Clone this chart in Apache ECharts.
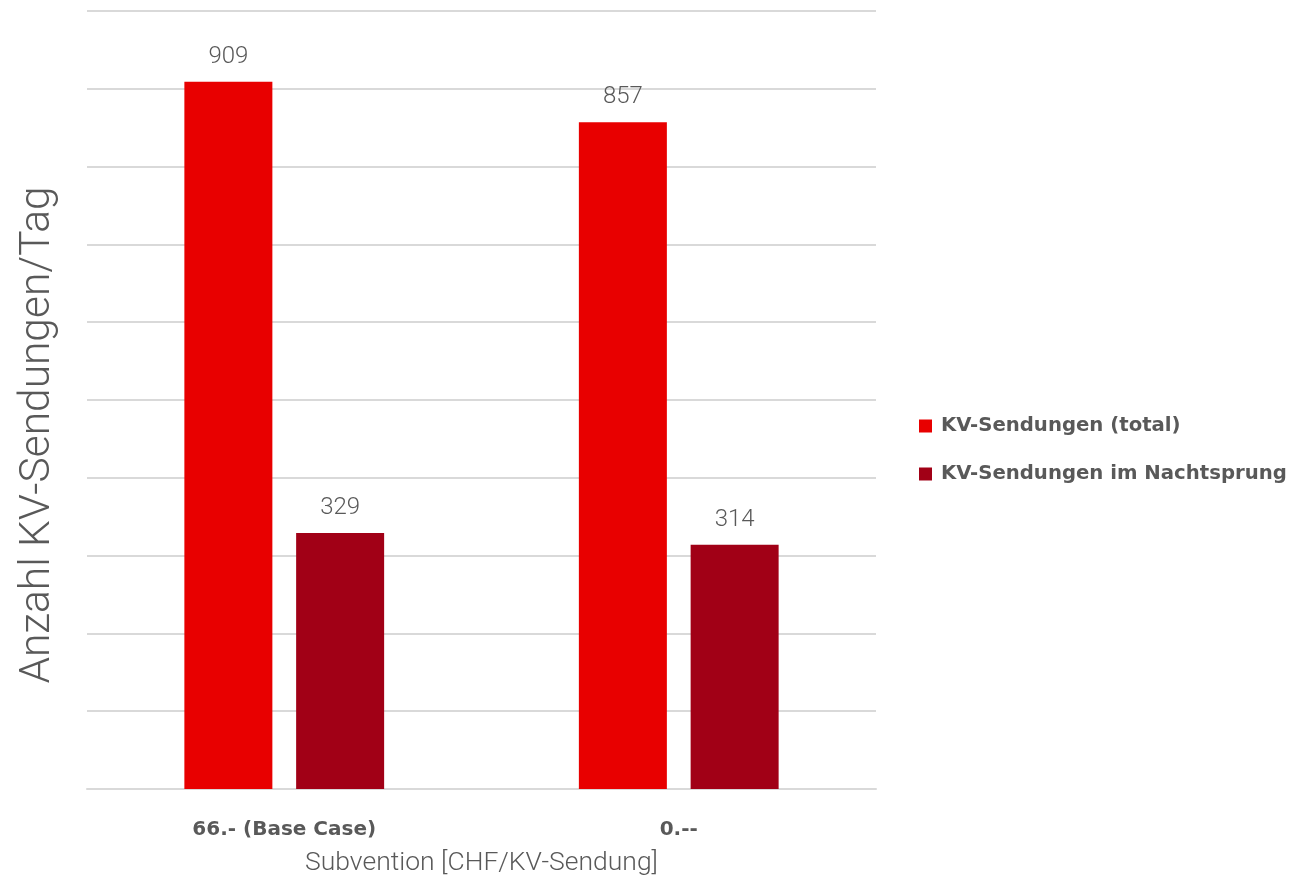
<!DOCTYPE html>
<html>
<head>
<meta charset="utf-8">
<style>
html,body{margin:0;padding:0;background:#fff;}
#chart{width:1306px;height:882px;}
</style>
<script src="https://cdn.jsdelivr.net/npm/echarts@6/dist/echarts.min.js"></script>
</head>
<body>
<div id="chart"></div>
<script>
const categories = ['66.- (Base Case)', '0.--'];
const seriesNames = ['KV-Sendungen (total)', 'KV-Sendungen im Nachtsprung'];
const totalValues = [909, 857];
const nightValues = [329, 314];
const yAxisTitle = 'Anzahl KV-Sendungen/Tag';
const xAxisTitle = 'Subvention [CHF/KV-Sendung]';

const chart = echarts.init(document.getElementById('chart'), null, {renderer: 'canvas'});
const lightFont = 'Roboto';
const boldFont = 'DejaVu Sans';
const labelStyle = {
  show: true, position: 'top', distance: 13,
  color: '#595959', fontFamily: lightFont, fontWeight: 300, fontSize: 24
};
chart.setOption({
  animation: false,
  backgroundColor: '#ffffff',
  grid: {left: 87, right: 430, top: 11, bottom: 93, containLabel: false, outerBoundsMode: 'none'},
  legend: {
    orient: 'vertical', left: 919, top: 416, padding: 0,
    itemWidth: 13, itemHeight: 13, itemGap: 28, icon: 'rect',
    textStyle: {color: '#595959', fontFamily: boldFont, fontWeight: 'bold', fontSize: 19.7, padding: [0,0,0,4]},
    data: seriesNames
  },
  xAxis: {
    type: 'category', data: categories,
    axisLine: {show: true, lineStyle: {color: '#d9d9d9', width: 2}},
    axisTick: {show: false},
    axisLabel: {color: '#595959', fontFamily: boldFont, fontWeight: 'bold', fontSize: 20, margin: 31},
    name: xAxisTitle, nameLocation: 'middle', nameGap: 61,
    nameTextStyle: {color: '#595959', fontFamily: lightFont, fontWeight: 300, fontSize: 26.5}
  },
  yAxis: {
    type: 'value', min: 0, max: 1000, interval: 100,
    axisLine: {show: false}, axisTick: {show: false}, axisLabel: {show: false},
    splitLine: {lineStyle: {color: '#d9d9d9', width: 2}}
  },
  graphic: [{
    type: 'text', x: 38, y: 435, rotation: Math.PI / 2,
    style: {text: yAxisTitle, fill: '#595959', font: '300 42.5px Roboto', align: 'center', verticalAlign: 'middle'}
  }],
  series: [
    {name: seriesNames[0], type: 'bar', data: totalValues, barWidth: 88, barGap: '27%',
     itemStyle: {color: '#E80000'}, label: labelStyle},
    {name: seriesNames[1], type: 'bar', data: nightValues, barWidth: 88,
     itemStyle: {color: '#A10016'}, label: labelStyle}
  ]
});
</script>
</body>
</html>
